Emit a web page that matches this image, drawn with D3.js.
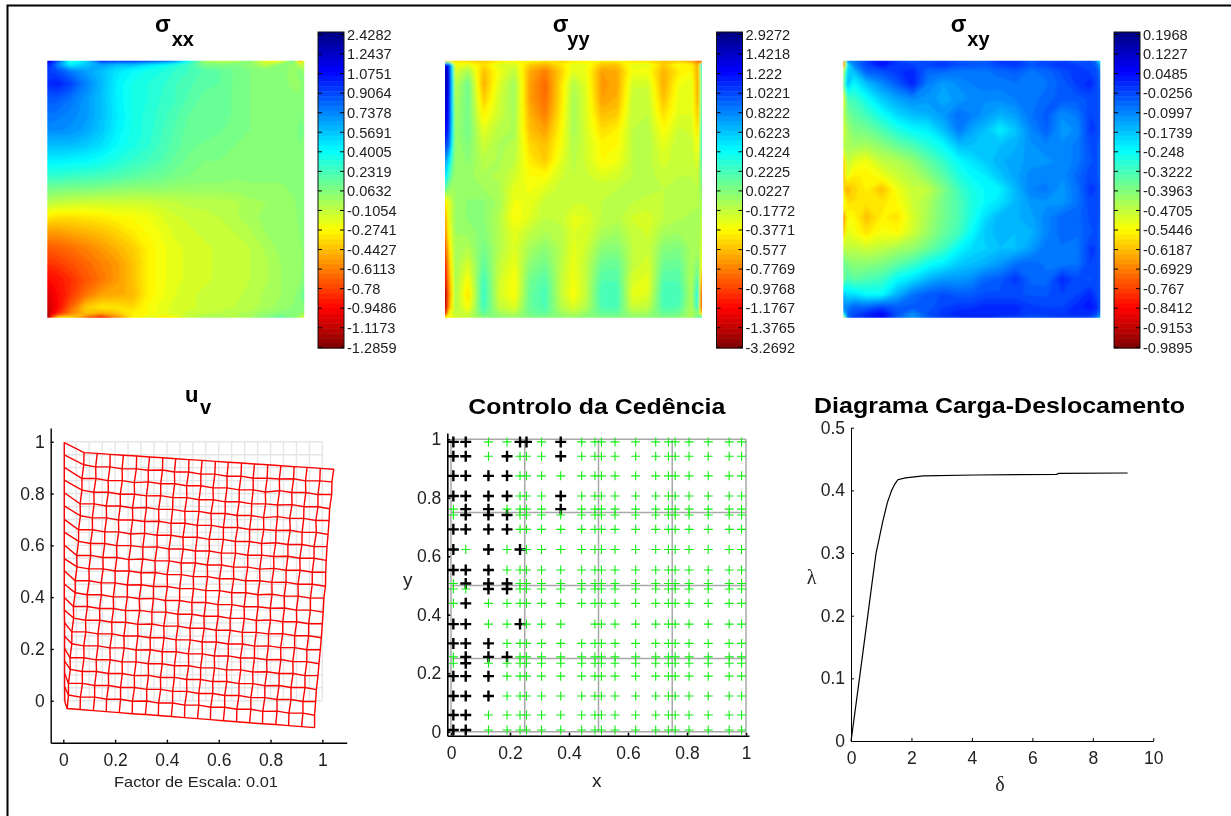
<!DOCTYPE html>
<html>
<head>
<meta charset="utf-8">
<title>Controlo da Cedência</title>
<script src="https://cdn.jsdelivr.net/npm/d3@7"></script>
<style>
    html, body { margin: 0; padding: 0; background: #fff; }
    svg { display: block; filter: blur(0.35px); }
    text { font-family: "Liberation Sans", Arial, sans-serif; fill: #222; }
    .axis path, .axis line { stroke: #000; }
</style>
</head>
<body>
<div id="chart"></div>
<script>
//Etiquetas de las barras de color (de arriba a abajo)
const sxxLabels = ['2.4282','1.2437','1.0751','0.9064','0.7378','0.5691','0.4005','0.2319','0.0632','-0.1054','-0.2741','-0.4427','-0.6113','-0.78','-0.9486','-1.1173','-1.2859'];
const syyLabels = ['2.9272','1.4218','1.222','1.0221','0.8222','0.6223','0.4224','0.2225','0.0227','-0.1772','-0.3771','-0.577','-0.7769','-0.9768','-1.1767','-1.3765','-3.2692'];
const sxyLabels = ['0.1968','0.1227','0.0485','-0.0256','-0.0997','-0.1739','-0.248','-0.3222','-0.3963','-0.4705','-0.5446','-0.6187','-0.6929','-0.767','-0.8412','-0.9153','-0.9895'];

//Nodos donde se han leído los campos (fracción del lado)
const fieldNodes = [0,.015,.04,.09,.15,.21,.27,.33,.39,.45,.5,.55,.61,.67,.73,.79,.85,.91,.96,.985,1];

//Campos leídos contra su barra de color: 0 = etiqueta superior, 16 = etiqueta inferior. Filas de arriba a abajo
const sxxLevels = [
[1.5,2,3,6.5,5.5,2.5,2.5,2.5,2.8,3.2,4,6,8.5,9,8.8,8.2,9.8,9.8,7.5,12,9],
[2.4,2.8,4.2,6,5.2,4.5,5,5,5.5,6,6.5,7,8,8,8,8.3,9,8,8.5,9,9],
[3,3,3.2,3.9,4.5,5,5.6,6,6.3,6.5,6.8,7,7.3,7.5,7.8,8,8,8.2,8.3,8,8.5],
[2.7,2.6,2.5,3,4,4.9,5.8,6.3,6.5,6.7,7,7.2,7.4,7.5,7.8,8,8.1,8.2,8.3,8.3,8],
[3.4,3.4,3.4,3.8,4.4,5,5.8,6.3,6.5,6.8,7,7.3,7.6,7.6,7.8,8,8.1,8.2,8.2,8.2,8],
[3.8,3.8,3.9,4.1,4.4,5,5.7,6.3,6.6,6.9,7.2,7.5,7.6,7.6,7.8,8,8.1,8.2,8.2,8,8],
[4.2,4.2,4.2,4.3,4.6,5.1,5.8,6.3,6.6,7,7.3,7.6,7.6,7.7,7.9,8,8.1,8.2,8.1,7.9,8],
[5,5,5,5,5.2,5.5,6,6.4,6.7,7.1,7.4,7.7,7.8,7.9,8,8,8.1,8.2,8.1,8,8],
[5.8,5.8,5.8,5.9,6,6.2,6.5,6.8,7,7.3,7.6,7.8,8,8,8.1,8.1,8.1,8.2,8.1,8,8],
[6.8,6.8,6.8,6.9,7,7.1,7.2,7.4,7.6,7.7,7.9,8,8.1,8.1,8.2,8.2,8.2,8.2,8.2,8,8],
[7.8,7.9,7.9,8,8,8.1,8.2,8.3,8.3,8.3,8.4,8.4,8.4,8.4,8.4,8.3,8.3,8.3,8.2,8.1,8],
[8.8,8.9,9,9.1,9.2,9.2,9.2,9.2,9.2,9.1,9,8.9,8.9,8.9,8.8,8.6,8.5,8.4,8.3,8.1,8],
[10.3,10.4,10.5,10.5,10.4,10.3,10.1,10,9.8,9.5,9.3,9.2,9.1,9,8.8,8.6,8.4,8.4,8.3,8.2,8],
[11.6,11.6,11.6,11.4,11.2,11,10.7,10.3,10,9.7,9.4,9.3,9.2,9.1,9,8.8,8.5,8.4,8.4,8.2,8],
[12.6,12.6,12.5,12.3,12,11.6,11.2,10.8,10.2,9.8,9.6,9.4,9.3,9.2,9.1,9,8.7,8.4,8.4,8.3,8.2],
[13.2,13.2,13.1,12.8,12.4,12,11.6,11,10.2,9.8,9.6,9.4,9.3,9.2,9.1,9,8.8,8.5,8.4,8.3,8.2],
[14,13.9,13.7,13.3,12.7,12.2,11.6,11,10.2,9.8,9.6,9.4,9.3,9.2,9.1,9,8.8,8.5,8.4,8.3,8],
[14.6,14.3,14,13.2,12.2,11.5,11.3,11.2,10.2,9.8,9.5,9.3,9.2,9.2,9.1,8.9,8.7,8.5,8.3,8,7.5],
[15,14.5,14,12.5,10.8,10.3,10.4,10.6,10,9.6,9.4,9.3,9.2,9.2,9,8.9,8.6,8.4,8.2,8,8],
[15.5,14.5,13.5,12,11,11.5,11,10.2,10,9.6,9.3,9.2,9,8.9,8.8,8.6,8.3,8.1,8,8.3,8.5],
[16,13,10.5,10.3,12.5,14,12,10.3,9.5,10.5,10,9,8.5,8.5,8.8,8.5,8,7.3,8,9,9.5]
];
const syyLevels = [
[11.5,10.5,10.5,10.8,10.8,10.4,10,10,10.3,10.6,10.4,10.2,10.2,10.2,10.6,10.6,10.8,11,11.5,12.5,13.5],
[2,2,9.8,9.5,10.5,9.5,9.3,10.8,11.2,10.4,9.5,9.7,10.9,10.9,9.6,9.5,10.8,9.8,10.2,11.3,5],
[1,1.5,9.5,8.6,11,9.8,9,11.3,12,10.8,9.5,9.8,11.5,11.3,9.8,9.9,11.2,10.3,10,11.5,6],
[1,1.5,9,7.7,11.3,9.5,8.5,11.5,12.4,10.5,8.8,9.6,11.6,11.4,9.3,9.3,11.3,9.8,9.6,11.5,6.5],
[1.2,1.8,8.8,7.7,10.8,9.3,8.5,11.5,12.3,10.5,8.6,9.5,11.5,11.2,9.1,9.1,11,9.6,9.5,11.5,6.5],
[1.5,2,8.6,7.8,10.2,9.2,8.6,11.2,12,10.3,8.6,9.5,11,10.8,9,9,10.5,9.5,9.5,11,6.5],
[2,2.5,8.5,7.8,9.6,8.9,8.7,11,11.5,10.1,8.6,9.4,10.5,10.2,9,8.9,10,9.2,9.3,10.5,6.6],
[3,3.5,8.5,8,9.2,8.7,8.8,10.6,11,9.9,8.8,9.3,10.1,10,9,8.8,9.6,9,9.2,10,6.8],
[4.5,5.5,8.5,8.2,8.9,8.7,9,10.3,10.8,9.6,8.9,9.3,10,9.8,9,8.9,9.4,9,9.1,9.6,7],
[5.5,7,8.5,8.4,8.7,8.8,9.3,10,10,9.3,9,9.2,9.5,9.3,9,8.9,9.1,9,9,9.2,7.5],
[7.5,8.3,8.5,8.4,8.5,8.7,9.6,9.8,9.5,9.1,9,9,9,9,8.9,8.9,9,8.9,8.9,9,8],
[10.5,9.6,8.5,8.2,8.2,8.6,9.8,9.7,9.1,9,9.2,9.2,9,8.9,9,9.1,9,8.9,8.8,8.8,8.5],
[11.5,9.6,8.5,8.2,8.2,8.8,10,9.5,9,9.1,9.6,9.5,9,8.9,9.3,9.4,9,8.8,8.7,8.7,8.8],
[12,10,8.5,8.4,8.1,8.8,9.6,9,8.7,8.9,9.5,9.4,8.7,8.5,9.1,9.3,8.6,8.5,8.6,8.6,9],
[13,10.5,8.6,8.8,7.8,8.8,9.5,8.6,8.2,8.8,9.6,9.2,8.2,8.1,9,9.2,8.1,8,8.6,8.5,9.5],
[14,11,8.6,9.4,7.5,9,9.7,8.2,7.8,8.9,9.7,9,7.7,7.6,9,9.4,7.7,7.6,8.7,8,10],
[14.5,11.5,8.6,10,7,9.2,10,7.8,7.3,9,9.8,9,7.3,7.3,9.4,9.6,7.3,7.3,8.8,7,12],
[15.5,12,8.6,10.5,6.8,9.3,10,7.6,7.1,9,10,9,7,7,9.6,9.5,7,7,8.8,6,14],
[15.5,11.5,8.7,10,7,9,9.5,7.6,7.2,8.8,9.4,8.8,7.2,7.2,9.2,9,7.2,7.3,8.8,6.5,14],
[14,10,9,9.3,7.5,8.5,8.8,7.8,7.5,8.4,8.8,8.3,7.6,7.6,8.6,8.5,7.6,7.8,8.8,8,11],
[10,10,9.5,9,8.2,8.2,8.4,8,8,8.2,8.4,8,8,8,8.2,8.2,8,8.2,8.6,7.5,6.5]
];
const sxyLevels = [
[12,4,4,3,2.3,3,3.5,3,3,3.3,3.5,3.5,2.8,2.8,3.5,3,3,3.5,3.2,4,6],
[13,6,4,3,2.2,2.8,3,3,2.8,3.2,3.2,3.4,3,2.8,3.3,3,2.8,3,3.2,3.4,5],
[9,5.5,5,3.4,3.2,2.8,2.6,3.6,3.6,3.8,3.8,3.8,3.6,3.4,3.8,3.6,3.2,2.8,3,3.2,4],
[8,5,6,5,4.2,3.4,2.5,4,4.5,4.2,4,3.8,3.9,3.8,3.9,3.8,3.4,2.9,2.6,3,3.6],
[10,7,7,6.2,5.2,4.6,4.2,4.4,4.6,4.4,4.2,4.2,4.2,4,3.9,3.6,3.4,3.4,3.2,3.2,3.4],
[9,8,7.5,7,6.2,5.4,5,4.8,4.4,3.7,4,4.4,4.8,4.5,3.8,3.4,4.2,3.9,3,3,3.4],
[9.5,8.5,8,7.8,7.2,6.5,6,5.8,5,3.9,4.6,5,5.8,5.1,4.1,3.5,4.4,4.2,2.9,3,3.4],
[9,8.5,8.5,8.6,8.2,7.6,7.2,6.6,6,5,5,5,5,4.8,4.3,4.1,4.2,3.9,3.2,3.2,3.6],
[11,9,9.5,9.8,9,8.8,8.3,7.5,6.8,6,5.6,5.2,4.8,4.6,4.4,4.3,4.2,3.9,3.3,3.2,3.6],
[11,9.5,10.3,10.2,9.8,9.2,8.8,8.2,7.4,6.5,6,5.8,5.1,4.6,4.1,4.1,4.2,3.6,3.1,3.2,3.6],
[10.5,11.3,10.7,10.2,11,9.8,9.1,9,8,7,6.4,6,5.8,4.9,4,3.9,4.4,3.8,2.8,3,3.4],
[9.5,10.5,10.5,10.4,10.4,10,9.2,8.7,7.8,7.2,6.5,6,5.6,4.9,4.4,4.3,4.4,3.8,3.1,3,3.4],
[12,10,10,11,10.2,10.4,9.4,8.6,7.8,7.2,6.4,5.5,4.8,4.8,4.6,4.1,3.6,3.6,3.2,3,3.5],
[11,9.5,9.8,10.4,9.8,10,9.2,8.4,7.6,7,6,5.2,4.8,5,4.8,4.1,3.6,3.7,3.3,3.2,3.5],
[9,9,9,9.2,9,8.6,8.3,7.7,7,6,5.5,5.3,5,5,4.5,3.8,3.8,3.9,2.9,3,3.5],
[7.5,8,8.2,8.2,8,7.5,7,6.2,5.8,5.2,5,4.8,4.4,3.8,3.6,3.8,3.9,3.8,3,3,3.4],
[8,7,7.5,7.2,7,6,5.5,4.8,4.4,4.4,4.2,3.6,3.4,2.8,3.6,3.7,2.6,3.2,3.3,3,3.4],
[5,5.5,5.5,6,6,4.8,3.8,3.4,3.2,3.4,3.4,3.2,3.2,3.2,3.3,3.3,3,3,2.6,3,3.5],
[4,4,3.5,3.5,3,3.4,3.4,3.4,3,2.8,2.8,2.6,2.6,2.6,2.9,3,3,2.6,2.3,2.6,3.4],
[6,3.6,3.2,2.6,2,3.2,4.2,3.2,2.8,2.5,2.5,2.5,2.5,2.7,3,2.9,2.8,2.6,2.7,3,4],
[10,4,3,2.7,2.2,3.5,4.5,3.5,3,2.8,2.6,2.6,3,3,3.2,3.2,3,3,3.2,4,5]
];

//Malla deformada u_v: coordenadas en milésimas, filas de arriba a abajo
const meshX = [
[4,80,131,181,232,283,333,384,434,485,536,587,637,688,738,789,840,891,941,992,1044],
[4,79,125,180,227,282,328,383,429,484,531,585,632,686,733,787,834,889,935,990,1037],
[4,72,126,173,228,274,328,376,430,476,531,578,632,679,733,780,835,882,936,983,1036],
[4,72,118,174,220,275,321,376,423,477,524,579,625,679,727,781,827,883,929,983,1028],
[4,65,119,166,220,267,321,368,422,469,524,570,625,671,726,773,827,874,928,975,1026],
[4,66,112,167,213,268,314,369,416,470,517,572,618,673,719,774,821,876,922,977,1022],
[4,59,113,160,214,260,314,362,416,462,517,563,618,664,719,765,820,867,921,968,1018],
[4,59,105,160,206,261,307,362,408,463,510,564,610,665,712,766,812,867,913,968,1015],
[4,52,106,153,207,253,307,354,409,455,510,556,611,657,712,758,813,860,914,961,1013],
[4,53,99,154,200,254,300,355,401,456,502,557,603,658,704,759,805,860,906,961,1012],
[4,46,100,146,200,247,301,348,402,449,503,550,604,650,705,751,806,853,907,954,1006],
[4,46,92,147,193,247,293,348,394,449,496,550,597,651,698,752,799,854,900,954,1003],
[4,39,93,140,194,240,295,342,396,442,497,543,598,644,699,745,800,847,901,947,1000],
[4,40,86,141,187,241,287,342,388,443,489,544,590,644,691,745,792,847,893,947,996],
[5,33,87,134,188,234,288,335,389,435,490,536,591,637,692,738,792,839,893,940,992],
[5,33,79,134,180,235,281,336,382,436,483,537,583,637,684,738,785,840,886,940,987],
[5,26,80,127,181,227,281,328,382,429,484,530,584,630,685,731,786,833,887,933,983],
[5,27,73,128,174,228,274,329,375,429,476,530,577,631,678,732,778,833,879,933,977],
[5,20,74,121,175,221,275,322,376,422,477,523,577,623,678,724,778,825,879,925,974],
[5,20,66,121,167,221,267,322,368,422,469,523,569,623,670,724,770,825,871,925,970],
[6,15,65,116,166,216,266,317,367,417,468,518,568,618,669,719,769,820,870,920,970]
];
const meshY = [
[997,958,955,951,948,945,941,938,934,931,928,924,921,918,914,911,907,904,901,897,894],
[949,911,903,903,895,895,890,891,883,883,875,875,867,867,859,859,856,857,849,849,845],
[901,858,858,850,850,842,845,838,838,830,830,822,822,814,814,806,811,804,804,796,796],
[852,813,805,805,797,797,791,792,784,784,776,776,768,768,760,760,756,757,749,749,741],
[803,760,760,752,752,744,746,739,739,731,731,723,723,715,715,707,711,704,704,696,696],
[752,714,706,706,698,698,692,693,685,685,677,677,669,669,661,661,657,658,650,650,642],
[700,660,660,652,652,644,646,639,639,631,631,623,623,615,615,607,610,603,603,595,595],
[651,615,607,607,599,599,593,594,586,586,578,578,570,570,562,562,557,558,550,550,542],
[601,561,561,553,553,545,547,540,540,532,532,524,524,516,516,508,511,504,504,496,496],
[549,517,509,509,501,501,494,495,487,487,479,479,471,471,463,463,457,458,450,450,442],
[502,463,463,455,455,447,448,441,441,433,433,425,425,417,417,409,411,404,404,396,396],
[451,417,409,409,401,401,394,395,387,387,379,379,371,371,363,363,357,358,350,350,342],
[399,364,364,356,356,348,349,342,342,334,334,326,326,318,318,310,312,305,305,297,297],
[350,319,311,311,303,303,295,296,288,288,280,280,272,272,264,264,258,259,251,251,243],
[301,266,266,258,258,250,250,243,243,235,235,227,227,219,219,211,212,205,205,197,197],
[249,220,212,212,204,204,196,197,189,189,181,181,173,173,165,165,158,159,151,151,143],
[202,166,166,158,158,150,150,143,143,135,135,127,127,119,119,111,112,105,105,97,97],
[153,121,113,113,105,105,97,98,90,90,82,82,74,74,66,66,58,59,51,51,43],
[106,67,67,59,59,51,51,44,44,36,36,28,28,20,20,12,12,5,5,-3,-3],
[55,22,14,14,6,6,-2,-1,-9,-9,-17,-17,-25,-25,-33,-33,-41,-40,-48,-48,-56],
[-4,-30,-34,-38,-42,-46,-50,-53,-57,-61,-65,-69,-73,-77,-81,-85,-89,-92,-96,-100,-104]
];
const refMesh = [0,.05,.1,.15,.2,.25,.3,.35,.4,.45,.5,.55,.6,.65,.7,.75,.8,.85,.9,.95,1];
const meshTicks = [0,.2,.4,.6,.8,1];

//Puntos de Gauss del control de cedencia. k = cedido, g = elástico, . = sin marca
const gaussX = [.008,.05,.127,.19,.234,.256,.307,.372,.443,.488,.51,.556,.626,.694,.737,.76,.807,.872,.943,.985];
const gaussY = [.991,.942,.875,.806,.761,.741,.692,.623,.553,.507,.488,.439,.368,.302,.256,.234,.19,.122,.057,.006];
const yieldStates = [
'kkggkkgkgggggggggggg',
'kkgkgggkgggggggggggg',
'kkkkgggggggggggggggg',
'kkkkgggkgggggggggggg',
'gkkggggkgggggggggggg',
'gkkkgggggggggggggggg',
'kkkkgggggggggggggggg',
'kgkgkggggggggggggggg',
'kkkggggggggggggggggg',
'gkkkgggggggggggggggg',
'ggkkgggggggggggggggg',
'gkgggggggggggggggggg',
'kkggkggg.ggggggggggg',
'kkkggggggggggggggggg',
'gkkkgggggggggggggggg',
'gkgggggggggggggggggg',
'kkkggggggggggggggggg',
'kkkggggggggggggggggg',
'kkgggggggggggggggggg',
'kkgggggggggggggggggg'
];
const yieldGrid = [0,.25,.5,.75,1];
const yieldTicks = [0,.2,.4,.6,.8,1];

//Diagrama carga-desplazamiento
const curveDelta = [0,.03,.28,.555,.69,.83,1.05,1.2,1.345,1.45,1.55,1.8,2.39,4.1,6.8,6.87,9.15];
const curveLambda = [0,.01,.1,.2,.25,.3,.35,.38,.4,.41,.417,.42,.423,.4245,.4255,.427,.4277];
const deltaTicks = [0,2,4,6,8,10];
const lambdaTicks = [0,.1,.2,.3,.4,.5];

const fmt = function(d) { return String(+d); };

let svg = d3.select('#chart')
    .append('svg')
    .attr('width', 1231)
    .attr('height', 816);

//Difuminado de los campos, como el sombreado interpolado del original
let defs = svg.append('defs');
defs.append('filter')
    .attr('id', 'fieldBlur')
    .append('feGaussianBlur')
    .attr('stdDeviation', 1.2);

//Marco de la figura, solo arriba e izquierda
svg.append('path')
    .attr('d', 'M7.5,816V5.5H1231')
    .attr('fill', 'none')
    .attr('stroke', '#000')
    .attr('stroke-width', 2);

//Mapa jet: t=0 azul oscuro, t=1 rojo oscuro
function jet(t) {
    let c = function(v) { return Math.round(255 * Math.max(0, Math.min(1, 1.5 - Math.abs(v)))); };
    return d3.rgb(c(4 * t - 3), c(4 * t - 2), c(4 * t - 1)).formatRgb();
}
let levelColor = d3.scaleLinear().domain([0,16]).range([0,1]);
const bandLevels = d3.range(0, 16, .25);

/////////////////CAMPOS DE TENSIONES///////////////
function drawField(id, levels, labels, x0, barX, symbolX, subX, sub) {
    const y0 = 60.7, side = 257, pad = 8, n = fieldNodes.length;
    //La media celda exterior sobresale y se recorta: así el difuminado no aclara los bordes
    let domain = [0].concat(fieldNodes.map(function(d, i) { return i + .5; }), [n]);
    let nodesPx = [-pad / side].concat(fieldNodes, [1 + pad / side]);
    let sx = d3.scaleLinear().domain(domain).range(nodesPx.map(function(d) { return x0 + d * side; }));
    let sy = d3.scaleLinear().domain(domain).range(nodesPx.map(function(d) { return y0 + d * side; }));
    let path = d3.geoPath(d3.geoTransform({
        point: function(x, y) { this.stream.point(sx(x), sy(y)); }
    }));

    let contours = d3.contours().size([n, n]).thresholds(bandLevels)(levels.flat());

    defs.append('clipPath')
        .attr('id', 'clip-' + id)
        .append('rect')
        .attr('x', x0).attr('y', y0)
        .attr('width', side).attr('height', side);

    svg.append('g')
        .attr('clip-path', 'url(#clip-' + id + ')')
        .append('g')
        .attr('filter', 'url(#fieldBlur)')
        .selectAll('path')
        .data(contours)
        .enter()
        .append('path')
        .attr('d', path)
        .attr('fill', function(d) { return jet(levelColor(d.value + .125)); });

    //Barra de color
    let barTop = 32, barBottom = 348, barW = 26;
    let yBand = d3.scaleBand().domain(bandLevels).range([barTop, barBottom]);
    svg.append('g')
        .selectAll('rect')
        .data(bandLevels)
        .enter()
        .append('rect')
        .attr('x', barX)
        .attr('y', function(d) { return yBand(d); })
        .attr('width', barW)
        .attr('height', yBand.bandwidth() + .5)
        .attr('fill', function(d) { return jet(levelColor(d + .125)); });

    svg.append('rect')
        .attr('x', barX).attr('y', barTop)
        .attr('width', barW).attr('height', barBottom - barTop)
        .attr('fill', 'none').attr('stroke', '#111').attr('stroke-width', 1);

    let yLabels = d3.scalePoint().domain(labels).range([34, 346.8]);
    let axisR = svg.append('g')
        .attr('class', 'axis')
        .attr('transform', 'translate(' + (barX + barW) + ',0)')
        .call(d3.axisRight(yLabels).tickSize(-4).tickPadding(3));
    axisR.select('.domain').remove();
    axisR.selectAll('text').style('font-size', '14.6px').attr('dy', '.36em');

    let axisL = svg.append('g')
        .attr('class', 'axis')
        .attr('transform', 'translate(' + barX + ',0)')
        .call(d3.axisLeft(yLabels).tickSize(-4).tickFormat(''));
    axisL.select('.domain').remove();

    //Título con subíndice
    svg.append('text').attr('x', symbolX).attr('y', 31.7)
        .style('font-size', '23px').style('font-weight', 'bold').style('fill', '#000').text('σ');
    svg.append('text').attr('x', subX).attr('y', 46)
        .style('font-size', '20px').style('font-weight', 'bold').style('fill', '#000').text(sub);
}

drawField('xx', sxxLevels, sxxLabels, 47.3, 318, 155, 171.7, 'xx');
drawField('yy', syyLevels, syyLabels, 445, 716.5, 552.7, 567.3, 'yy');
drawField('xy', sxyLevels, sxyLabels, 843.3, 1114, 950.7, 967.3, 'xy');

/////////////////EJES COMUNES///////////////
function addAxes(x, y, xTicks, yTicks, bottom, left, weight) {
    let gx = svg.append('g')
        .attr('class', 'axis')
        .attr('transform', 'translate(0,' + bottom + ')')
        .call(d3.axisBottom(x).tickValues(xTicks).tickFormat(fmt).tickSizeInner(-3).tickSizeOuter(0).tickPadding(11));
    let gy = svg.append('g')
        .attr('class', 'axis')
        .attr('transform', 'translate(' + left + ',0)')
        .call(d3.axisLeft(y).tickValues(yTicks).tickFormat(fmt).tickSizeInner(-3).tickSizeOuter(0).tickPadding(6));
    svg.selectAll('.axis text').filter(function() { return !this.style.fontSize; }).style('font-size', '17.5px');
    gx.selectAll('path,line').attr('stroke-width', weight);
    gy.selectAll('path,line').attr('stroke-width', weight);
}

function addTitle(text, x, y, len) {
    svg.append('text')
        .attr('x', x).attr('y', y)
        .attr('textLength', len)
        .attr('lengthAdjust', 'spacingAndGlyphs')
        .style('font-size', '22.5px').style('font-weight', 'bold').style('fill', '#000')
        .text(text);
}

/////////////////MALLA u_v///////////////
let xMesh = d3.scaleLinear().domain([-.0486, 1.094]).range([50.7, 346.7]);
let yMesh = d3.scaleLinear().domain([-.162, 1.053]).range([742.7, 428]);
let meshLine = d3.line()
    .x(function(d) { return xMesh(d[0]); })
    .y(function(d) { return yMesh(d[1]); });

svg.append('g')
    .selectAll('path')
    .data(refMesh.map(function(v) { return refMesh.map(function(u) { return [u, v]; }); })
        .concat(refMesh.map(function(u) { return refMesh.map(function(v) { return [u, v]; }); })))
    .enter()
    .append('path')
    .attr('d', meshLine)
    .attr('fill', 'none')
    .attr('stroke', '#e6e6e6')
    .attr('stroke-width', 1.4);

let meshRows = meshX.map(function(row, r) { return row.map(function(v, c) { return [v / 1000, meshY[r][c] / 1000]; }); });
let meshCols = meshRows[0].map(function(_, c) { return meshRows.map(function(row) { return row[c]; }); });

svg.append('g')
    .selectAll('path')
    .data(meshRows.concat(meshCols))
    .enter()
    .append('path')
    .attr('d', meshLine)
    .attr('fill', 'none')
    .attr('stroke', '#ff0000')
    .attr('stroke-width', 1.4);

addAxes(xMesh, yMesh, meshTicks, meshTicks, 742.7, 50.7, 1.4);

svg.append('text').attr('x', 185).attr('y', 401.7)
    .style('font-size', '22px').style('font-weight', 'bold').style('fill', '#000').text('u');
svg.append('text').attr('x', 200).attr('y', 414)
    .style('font-size', '20px').style('font-weight', 'bold').style('fill', '#000').text('v');
svg.append('text').attr('x', 114).attr('y', 787)
    .attr('textLength', 164)
    .attr('lengthAdjust', 'spacingAndGlyphs')
    .style('font-size', '14.6px')
    .text('Factor de Escala: 0.01');

/////////////////CONTROLO DA CEDÊNCIA///////////////
let xYield = d3.scaleLinear().domain([-.0125, 1.0102]).range([447.3, 749]);
let yYield = d3.scaleLinear().domain([-.0137, 1.0215]).range([735.7, 433]);

let gridG = svg.append('g');
gridG.selectAll('line.v').data(yieldGrid).enter().append('line').attr('class', 'v')
    .attr('x1', function(d) { return xYield(d); }).attr('x2', function(d) { return xYield(d); })
    .attr('y1', yYield(0)).attr('y2', yYield(1))
    .attr('stroke', '#a8a8a8').attr('stroke-width', 1.5);
gridG.selectAll('line.h').data(yieldGrid).enter().append('line').attr('class', 'h')
    .attr('y1', function(d) { return yYield(d); }).attr('y2', function(d) { return yYield(d); })
    .attr('x1', xYield(0)).attr('x2', xYield(1))
    .attr('stroke', '#a8a8a8').attr('stroke-width', 1.5);

let yieldPoints = [];
yieldStates.forEach(function(row, r) {
    row.split('').forEach(function(s, c) {
        if (s != '.') { yieldPoints.push({x: gaussX[c], y: gaussY[r], s: s}); }
    });
});
//Primero las verdes para que las negras queden encima
yieldPoints.sort(function(a, b) { return d3.descending(a.s, b.s); });

svg.append('g')
    .selectAll('path')
    .data(yieldPoints)
    .enter()
    .append('path')
    .attr('transform', function(d) { return 'translate(' + xYield(d.x) + ',' + yYield(d.y) + ')'; })
    .attr('d', function(d) { return d.s == 'k' ? 'M-5.5,0H5.5M0,-5.5V5.5' : 'M-4.5,0H4.5M0,-4.5V4.5'; })
    .attr('fill', 'none')
    .attr('stroke', function(d) { return d.s == 'k' ? '#000' : '#10ee10'; })
    .attr('stroke-width', function(d) { return d.s == 'k' ? 2.4 : 1.1; });

addAxes(xYield, yYield, yieldTicks, yieldTicks, 735.7, 447.3, 1.6);

addTitle('Controlo da Cedência', 468.3, 414, 257);
svg.append('text').attr('x', 596.7).attr('y', 787).attr('text-anchor', 'middle').style('font-size', '19px').text('x');
svg.append('text').attr('x', 407.7).attr('y', 586).attr('text-anchor', 'middle').style('font-size', '19px').text('y');

/////////////////DIAGRAMA CARGA-DESLOCAMENTO///////////////
let xCurve = d3.scaleLinear().domain([0, 10]).range([851, 1153.3]);
let yCurve = d3.scaleLinear().domain([0, .5]).range([741, 427.7]);

svg.append('path')
    .datum(curveDelta.map(function(d, i) { return [d, curveLambda[i]]; }))
    .attr('d', d3.line()
        .x(function(d) { return xCurve(d[0]); })
        .y(function(d) { return yCurve(d[1]); }))
    .attr('fill', 'none')
    .attr('stroke', '#000')
    .attr('stroke-width', 1.2);

addAxes(xCurve, yCurve, deltaTicks, lambdaTicks, 741, 851, 1);

addTitle('Diagrama Carga-Deslocamento', 814, 412.7, 371);
svg.append('text').attr('x', 1000).attr('y', 791).attr('text-anchor', 'middle')
    .style('font-family', '"Liberation Serif", serif').style('font-size', '20px').text('δ');
svg.append('text').attr('x', 811.7).attr('y', 584).attr('text-anchor', 'middle')
    .style('font-family', '"Liberation Serif", serif').style('font-size', '20px').text('λ');
</script>
</body>
</html>
